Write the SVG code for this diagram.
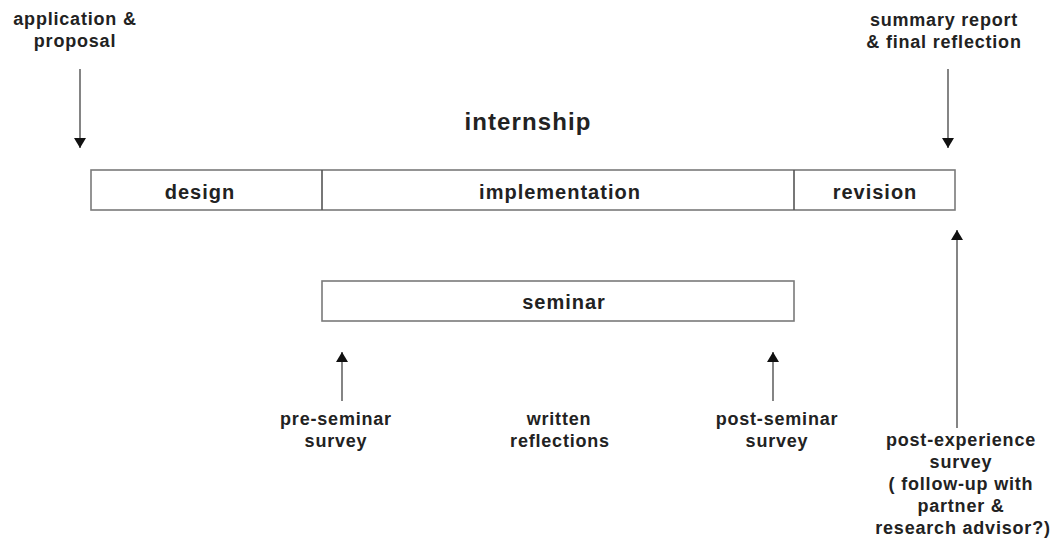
<svg xmlns="http://www.w3.org/2000/svg" width="1055" height="546" viewBox="0 0 1055 546">
<style>
text{font-family:"Liberation Sans",Arial,Helvetica,sans-serif;font-weight:bold;fill:#222;text-anchor:middle}
.lbl{font-size:18px;letter-spacing:0.8px}
.box{font-size:20px;letter-spacing:1px}
.title{font-size:24px;letter-spacing:1.1px}
.frame{fill:#fff;stroke:#7a7a7a;stroke-width:1.6}
.div{stroke:#555;stroke-width:1.6}
.conn{stroke:#666;stroke-width:1.6;fill:none;marker-end:url(#ah)}
</style>
<defs>
<marker id="ah" viewBox="0 0 10 12" refX="10" refY="6" markerUnits="userSpaceOnUse" markerWidth="10" markerHeight="12" orient="auto">
<path d="M0,0 L10,6 L0,12 Z" fill="#111"/>
</marker>
</defs>
<rect width="1055" height="546" fill="#fff"/>
<g id="internship-label"><text class="title" x="528" y="130">internship</text></g>
<g id="internship-bar">
<rect class="frame" x="91" y="170" width="864" height="40"/>
<line class="div" x1="322" y1="170" x2="322" y2="210"/>
<line class="div" x1="794" y1="170" x2="794" y2="210"/>
</g>
<g id="design"><text class="box" x="200" y="199">design</text></g>
<g id="implementation"><text class="box" x="560" y="199">implementation</text></g>
<g id="revision"><text class="box" x="875" y="199">revision</text></g>
<g id="seminar">
<rect class="frame" x="322" y="281" width="472" height="40"/>
<text class="box" x="564" y="309">seminar</text>
</g>
<g id="application"><text class="lbl" x="75" y="25">application &amp;</text><text class="lbl" x="75" y="47">proposal</text></g>
<g id="summary"><text class="lbl" x="944" y="26">summary report</text><text class="lbl" x="944" y="48">&amp; final reflection</text></g>
<g id="pre-seminar"><text class="lbl" x="336" y="425">pre-seminar</text><text class="lbl" x="336" y="447">survey</text></g>
<g id="written"><text class="lbl" x="559" y="425">written</text><text class="lbl" x="560" y="447">reflections</text></g>
<g id="post-seminar"><text class="lbl" x="777" y="425">post-seminar</text><text class="lbl" x="777" y="447">survey</text></g>
<g id="post-experience">
<text class="lbl" x="961" y="446">post-experience</text>
<text class="lbl" x="961" y="468">survey</text>
<text class="lbl" x="961" y="490">( follow-up with</text>
<text class="lbl" x="961" y="512">partner &amp;</text>
<text class="lbl" x="963" y="534">research advisor?)</text>
</g>
<g id="connectors">
<line class="conn" x1="80" y1="69" x2="80" y2="148"/>
<line class="conn" x1="948" y1="69" x2="948" y2="148"/>
<line class="conn" x1="342" y1="401" x2="342" y2="352"/>
<line class="conn" x1="773" y1="401" x2="773" y2="352"/>
<line class="conn" x1="957" y1="428" x2="957" y2="230"/>
</g>
</svg>
